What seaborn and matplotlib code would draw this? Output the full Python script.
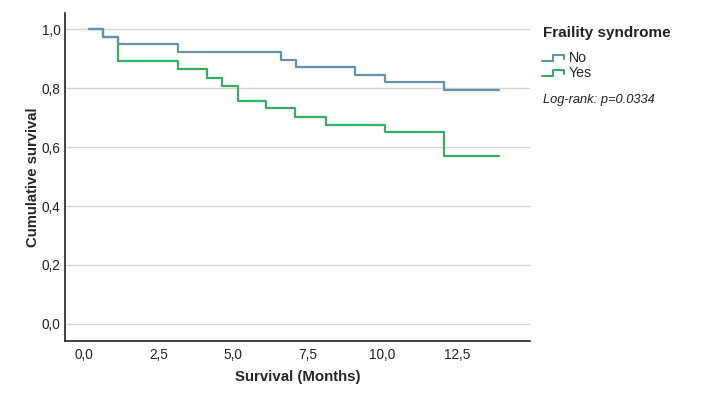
import numpy as np
import pandas as pd
import seaborn as sns
import matplotlib.pyplot as plt
from matplotlib.lines import Line2D
from matplotlib.legend_handler import HandlerBase
from matplotlib.ticker import FuncFormatter, MultipleLocator

sns.set_style('white')
plt.rcParams['font.family'] = ['Liberation Sans', 'DejaVu Sans']

# Kaplan-Meier step values (months, cumulative survival)
no_times = [0.18, 0.65, 1.15, 3.13, 6.60, 7.10, 9.07, 10.08, 12.07, 13.91]
no_surv = [1.0, 0.973, 0.950, 0.923, 0.895, 0.870, 0.845, 0.821, 0.792, 0.792]
yes_times = [0.18, 0.65, 1.15, 3.13, 4.12, 4.63, 5.15, 6.10, 7.08, 8.10, 10.08, 12.07, 13.91]
yes_surv = [1.0, 0.973, 0.891, 0.865, 0.835, 0.808, 0.757, 0.732, 0.702, 0.674, 0.651, 0.569, 0.569]
groups = ['No', 'Yes']
colors = {'No': '#6590b0', 'Yes': '#35ad62'}
p_text = 'Log-rank: p=0.0334'

df = pd.concat([
    pd.DataFrame({'time': yes_times, 'surv': yes_surv, 'group': 'Yes'}),
    pd.DataFrame({'time': no_times, 'surv': no_surv, 'group': 'No'}),
], ignore_index=True)


class StepHandler(HandlerBase):
    # little step icon like SPSS uses in the legend
    def create_artists(self, legend, orig_handle, xdescent, ydescent,
                       width, height, fontsize, trans):
        x0 = -xdescent
        y0, y1 = -ydescent + 0.1 * height, -ydescent + 0.7 * height
        xm, xe = x0 + 0.5 * width, x0 + 0.95 * width
        xs = [x0, xm, xm, xe, xe]
        ys = [y0, y0, y1, y1, y0 + 0.2 * height]
        ln = Line2D(xs, ys, color=orig_handle.get_color(), lw=1.5, transform=trans)
        return [ln]


fig = plt.figure(figsize=(7.04, 4.09), dpi=100)
ax = fig.add_axes([0.0919, 0.1663, 0.7528 - 0.0919, 0.969 - 0.1663])

for g in ['Yes', 'No']:
    sub = df[df['group'] == g]
    sns.lineplot(data=sub, x='time', y='surv', estimator=None, sort=False,
                 drawstyle='steps-post', color=colors[g], lw=1.6, ax=ax,
                 legend=False)

ax.set_xlim(-0.65, 14.94)
ax.set_ylim(-0.058, 1.056)
ax.yaxis.set_major_locator(MultipleLocator(0.2))
comma = FuncFormatter(lambda v, pos: f'{v:.1f}'.replace('.', ','))
ax.xaxis.set_major_formatter(comma)
ax.yaxis.set_major_formatter(comma)
ax.set_xticks(np.arange(0, 12.6, 2.5))
ax.tick_params(length=0, labelsize=9.8, colors='#222222')
ax.tick_params(axis='y', pad=3)
ax.tick_params(axis='x', pad=5)
ax.grid(axis='y', color='#d4d4d4', lw=1)
ax.grid(axis='x', visible=False)
for s in ['top', 'right']:
    ax.spines[s].set_visible(False)
for s in ['left', 'bottom']:
    ax.spines[s].set_color('#222222')
    ax.spines[s].set_linewidth(1.2)

ax.set_xlabel('Survival (Months)', fontsize=10.8, fontweight='bold', labelpad=6)
ax.set_ylabel('Cumulative survival', fontsize=10.7, fontweight='bold', labelpad=1)

# legend title drawn as its own text so the spacing can follow the reference
fig.text(543 / 704, 1 - 33 / 409, 'Fraility syndrome', fontsize=11,
         fontweight='bold', va='center', ha='left', color='#222222')
handles = [Line2D([], [], color=colors[g]) for g in groups]
leg = fig.legend(handles, groups, loc='upper left',
                 bbox_to_anchor=(542 / 704, 1 - 51 / 409), frameon=False,
                 fontsize=10.2, handler_map={Line2D: StepHandler()},
                 handlelength=1.6, handletextpad=0.3, labelspacing=0.1,
                 borderpad=0, borderaxespad=0)
fig.text(543 / 704, 1 - 100 / 409, p_text, fontsize=9.3, style='italic',
         va='center', ha='left', color='#222222')

fig.savefig('out.png', dpi=100)
